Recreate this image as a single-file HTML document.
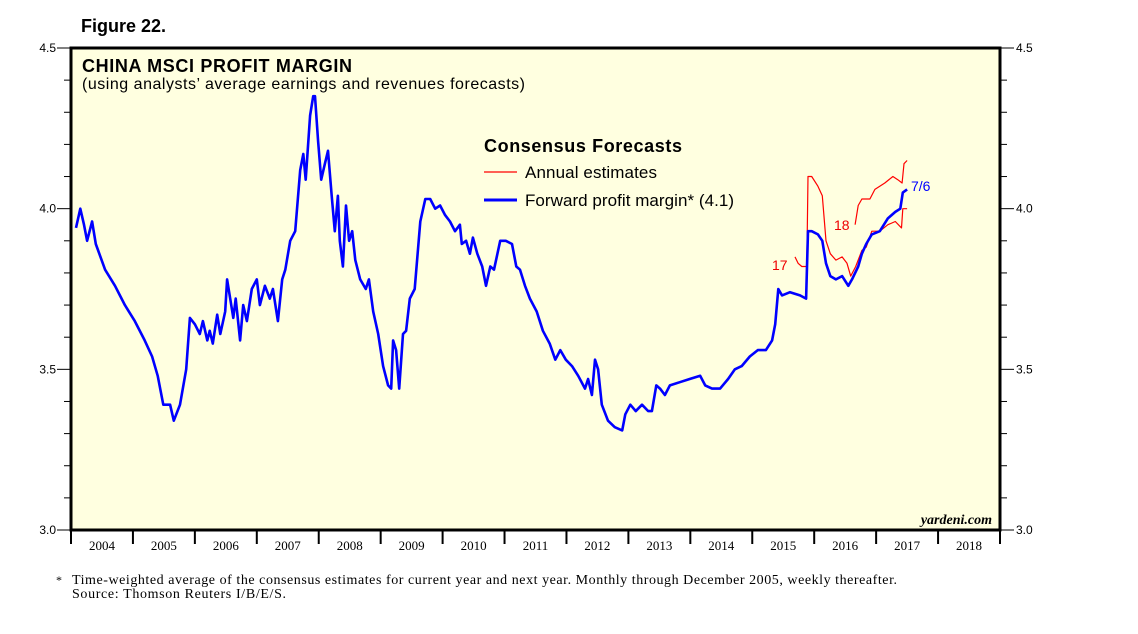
<!DOCTYPE html>
<html><head><meta charset="utf-8"><style>
body{margin:0;background:#fff;}
svg text{font-family:"Liberation Sans",sans-serif;}
</style></head><body>
<svg width="1138" height="629" viewBox="0 0 1138 629">
<text x="81" y="32" font-size="18" font-weight="bold">Figure 22.</text>
<rect x="71" y="48" width="929" height="482" fill="#ffffe0"/>
<g id="axes"></g>
<g id="series"></g>
<rect x="71" y="48" width="929" height="482" fill="none" stroke="#000" stroke-width="3"/>
<text x="82" y="72" font-size="18" font-weight="bold" textLength="270">CHINA MSCI PROFIT MARGIN</text>
<text x="82" y="89" font-size="16" textLength="443">(using analysts’ average earnings and revenues forecasts)</text>
<g>
<text x="484" y="152" font-size="18" font-weight="bold" textLength="198">Consensus Forecasts</text>
<line x1="484" y1="172" x2="517" y2="172" stroke="#f00" stroke-width="1.2"/>
<text x="525" y="178" font-size="17" textLength="132">Annual estimates</text>
<line x1="484" y1="200" x2="517" y2="200" stroke="#00f" stroke-width="3"/>
<text x="525" y="206" font-size="17" textLength="209">Forward profit margin* (4.1)</text>
</g>
<text x="772" y="270" font-size="14" fill="#e00">17</text>
<text x="834" y="230" font-size="14" fill="#e00">18</text>
<text x="911" y="191" font-size="14" fill="#00f">7/6</text>
<text x="992" y="524" font-size="14" font-style="italic" font-weight="bold" text-anchor="end" style="font-family:'Liberation Serif',serif">yardeni.com</text>
<text x="56" y="584" font-size="12" style="font-family:'Liberation Serif',serif">*</text>
<text x="72" y="584" font-size="14" textLength="825" style="font-family:'Liberation Serif',serif">Time-weighted average of the consensus estimates for current year and next year. Monthly through December 2005, weekly thereafter.</text>
<text x="72" y="598" font-size="14" textLength="214" style="font-family:'Liberation Serif',serif">Source: Thomson Reuters I/B/E/S.</text>
</svg>
<script>
const fwdYears=[2004.08,2004.15,2004.21,2004.26,2004.34,2004.40,2004.55,2004.71,2004.79,2004.87,2005.03,2005.19,2005.31,2005.40,2005.49,2005.60,2005.66,2005.76,2005.86,2005.92,2006.00,2006.08,2006.13,2006.20,2006.24,2006.29,2006.36,2006.41,2006.49,2006.52,2006.57,2006.62,2006.66,2006.73,2006.78,2006.84,2006.92,2007.00,2007.05,2007.13,2007.21,2007.26,2007.34,2007.41,2007.46,2007.54,2007.62,2007.70,2007.75,2007.79,2007.86,2007.91,2007.94,2007.99,2008.04,2008.10,2008.15,2008.21,2008.26,2008.31,2008.34,2008.39,2008.44,2008.49,2008.54,2008.59,2008.67,2008.76,2008.81,2008.88,2008.96,2009.04,2009.12,2009.17,2009.20,2009.25,2009.30,2009.36,2009.41,2009.47,2009.55,2009.64,2009.72,2009.80,2009.88,2009.96,2010.04,2010.12,2010.20,2010.28,2010.31,2010.38,2010.44,2010.49,2010.56,2010.64,2010.70,2010.77,2010.83,2010.93,2011.02,2011.12,2011.19,2011.25,2011.33,2011.41,2011.52,2011.62,2011.73,2011.82,2011.90,2011.99,2012.09,2012.19,2012.30,2012.35,2012.41,2012.46,2012.51,2012.57,2012.67,2012.78,2012.90,2012.95,2013.03,2013.12,2013.22,2013.32,2013.38,2013.45,2013.51,2013.59,2013.67,2013.83,2013.99,2014.16,2014.24,2014.35,2014.48,2014.61,2014.72,2014.83,2014.96,2015.09,2015.22,2015.32,2015.37,2015.42,2015.48,2015.61,2015.77,2015.87,2015.90,2015.96,2016.06,2016.13,2016.19,2016.26,2016.35,2016.45,2016.55,2016.61,2016.71,2016.77,2016.84,2016.93,2017.06,2017.19,2017.31,2017.39,2017.43,2017.50];
const fwdValues=[3.94,4.00,3.95,3.90,3.96,3.89,3.81,3.76,3.73,3.70,3.65,3.59,3.54,3.48,3.39,3.39,3.34,3.39,3.50,3.66,3.64,3.61,3.65,3.59,3.62,3.58,3.67,3.61,3.68,3.78,3.72,3.66,3.72,3.59,3.70,3.65,3.75,3.78,3.70,3.76,3.72,3.75,3.65,3.78,3.81,3.90,3.93,4.12,4.17,4.09,4.29,4.35,4.35,4.21,4.09,4.14,4.18,4.04,3.93,4.04,3.90,3.82,4.01,3.90,3.93,3.84,3.78,3.75,3.78,3.68,3.61,3.51,3.45,3.44,3.59,3.56,3.44,3.61,3.62,3.72,3.75,3.96,4.03,4.03,4.00,4.01,3.98,3.96,3.93,3.95,3.89,3.90,3.86,3.91,3.86,3.82,3.76,3.82,3.81,3.90,3.90,3.89,3.82,3.81,3.76,3.72,3.68,3.62,3.58,3.53,3.56,3.53,3.51,3.48,3.44,3.47,3.42,3.53,3.50,3.39,3.34,3.32,3.31,3.36,3.39,3.37,3.39,3.37,3.37,3.45,3.44,3.42,3.45,3.46,3.47,3.48,3.45,3.44,3.44,3.47,3.50,3.51,3.54,3.56,3.56,3.59,3.64,3.75,3.73,3.74,3.73,3.72,3.93,3.93,3.92,3.90,3.83,3.79,3.78,3.79,3.76,3.78,3.82,3.86,3.89,3.92,3.93,3.97,3.99,4.00,4.05,4.06];
const est17Years=[2015.69,2015.74,2015.80,2015.88,2015.90,2015.96,2016.06,2016.13,2016.19,2016.26,2016.35,2016.45,2016.53,2016.59,2016.67,2016.77,2016.84,2016.93,2017.06,2017.19,2017.31,2017.41,2017.43,2017.50];
const est17Values=[3.85,3.83,3.82,3.82,4.10,4.10,4.07,4.04,3.90,3.86,3.84,3.85,3.83,3.79,3.82,3.87,3.88,3.93,3.93,3.95,3.96,3.94,4.00,4.00];
const est18Years=[2016.66,2016.71,2016.77,2016.90,2016.98,2017.14,2017.27,2017.35,2017.42,2017.45,2017.50];
const est18Values=[3.95,4.01,4.03,4.03,4.06,4.08,4.10,4.09,4.08,4.14,4.15];
const yTicks=[3.0,3.5,4.0,4.5];
const yTickLabels=["3.0","3.5","4.0","4.5"];
const yearLabels=["2004","2005","2006","2007","2008","2009","2010","2011","2012","2013","2014","2015","2016","2017","2018"];

const NS="http://www.w3.org/2000/svg";
const X0=71,X1=1000,Y0=530,Y1=48;
const xs=t=>X0+(t-2004)*(X1-X0)/15;
const ys=v=>Y0-(v-3.0)*(Y0-Y1)/1.5;
function mk(tag,attrs,parent){const e=document.createElementNS(NS,tag);for(const k in attrs)e.setAttribute(k,attrs[k]);parent.appendChild(e);return e;}
const ax=document.getElementById('axes');
for(let v=3.0;v<=4.501;v+=0.1){
  const y=ys(v);
  const major=yTicks.some(t=>Math.abs(t-v)<0.001);
  const l=mk('line',{x1:X0-(major?14:7),x2:X0,y1:y,y2:y,stroke:'#000','stroke-width':1},ax);
  
  
  const r=mk('line',{x1:X1,x2:X1+(major?14:7),y1:y,y2:y,stroke:'#000','stroke-width':1},ax);
  
  
}
yTicks.forEach((v,i)=>{
  const t=mk('text',{x:X0-15,y:ys(v)+4,'font-size':12,'text-anchor':'end'},ax);
  t.textContent=yTickLabels[i];
  
  
  const t2=mk('text',{x:X1+16,y:ys(v)+4,'font-size':12},ax);
  t2.textContent=yTickLabels[i];
  
  
});
for(let i=0;i<=15;i++){
  const l=mk('line',{x1:xs(2004+i),x2:xs(2004+i),y1:Y0,y2:Y0+14,stroke:'#000','stroke-width':2},ax);
  
  
}
yearLabels.forEach((lab,i)=>{
  const t=mk('text',{x:xs(2004+i+0.5),y:Y0+20,'font-size':13,'text-anchor':'middle',style:"font-family:'Liberation Serif',serif"},ax);
  t.textContent=lab;
  
  
});
const sg=document.getElementById('series');
function line(xa,va,color,w,name){
  const d=xa.map((t,i)=>(i?'L':'M')+xs(t).toFixed(1)+','+ys(va[i]).toFixed(1)).join('');
  const p=mk('path',{d:d,fill:'none',stroke:color,'stroke-width':w,'stroke-linejoin':'round'},sg);
  
  
}
line(est17Years,est17Values,'#f00',1.2,'annual-estimate-2017-line');
line(est18Years,est18Values,'#f00',1.2,'annual-estimate-2018-line');
line(fwdYears,fwdValues,'#00f',2.6,'forward-profit-margin-line');
</script>
</body></html>
